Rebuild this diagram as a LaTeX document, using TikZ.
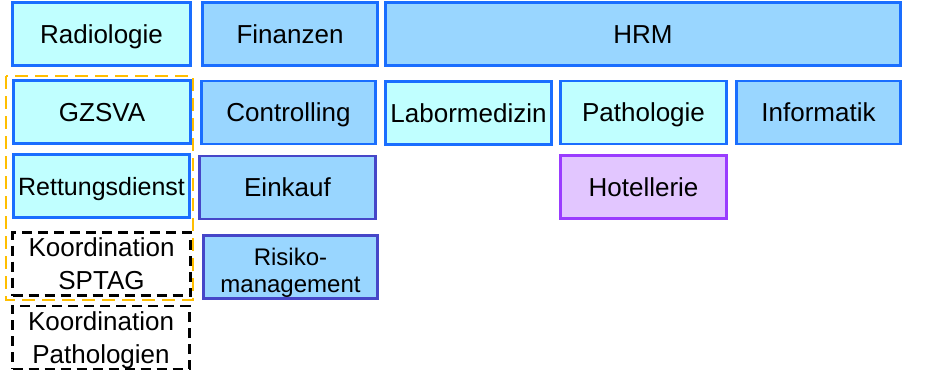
\documentclass[tikz,border=0pt]{standalone}
\usepackage{fontspec}
\setmainfont{Liberation Sans}
\usepackage{tikz}
\definecolor{cyanfill}{HTML}{C0FFFF}
\definecolor{bluefill}{HTML}{99D6FF}
\definecolor{blueline}{HTML}{1A6EFF}
\definecolor{darkline}{HTML}{4646C8}
\definecolor{lilafill}{HTML}{E2C6FF}
\definecolor{lilaline}{HTML}{9A3CFF}
\definecolor{grporange}{HTML}{FFBE00}

\begin{document}
\begin{tikzpicture}[x=1pt,y=-1pt,
    unit/.style={draw=blueline,line width=2.2pt,inner sep=0pt,align=center,
      minimum height=63pt,font=\fontsize{26}{33}\selectfont},
    one/.style={text height=18.6pt,text depth=0pt},
    light/.style={unit,one,fill=cyanfill},
    mid/.style={unit,one,fill=bluefill},
    darkmid/.style={unit,fill=bluefill,draw=darkline},
    lila/.style={unit,one,fill=lilafill,draw=lilaline},
    koord/.style={unit,draw=black,line width=2.5pt,dash pattern=on 10pt off 6pt},
    grp/.style={draw=grporange,line width=2.4pt,dash pattern=on 13pt off 7pt},
  ]
    \useasboundingbox (0,0) rectangle (935,372);
    \node[light,minimum width=178pt] (radio) at (101.5,34) {Radiologie};
    \node[mid,minimum width=175pt] (fin) at (290,34) {Finanzen};
    \node[mid,minimum width=515pt] (hrm) at (643,34) {HRM};
    \node[light,minimum width=177pt] (gzsva) at (102,112) {GZSVA};
    \node[mid,minimum width=174pt] (contr) at (288.5,112.5) {Controlling};
    \node[light,minimum width=166pt] (labor) at (468.5,113) {Labormedizin};
    \node[light,minimum width=166pt] (patho) at (643.5,112.5) {Pathologie};
    \node[mid,minimum width=164pt] (info) at (818.5,112.5) {Informatik};
    \node[light,minimum width=176pt,font=\fontsize{25}{30}\selectfont] (rettung) at (101.5,186) {Rettungsdienst};
    \node[darkmid,one,minimum width=176pt] (einkauf) at (287.5,187.5) {Einkauf};
    \node[lila,minimum width=166pt] (hotel) at (643.5,187) {Hotellerie};
    \node[koord,minimum width=178pt] (sptag) at (101.5,264) {Koordination\\SPTAG};
    \node[darkmid,minimum width=174pt,font=\fontsize{24}{27}\selectfont] (risiko) at (290.5,267)
      {\rule{0pt}{28pt}Risiko-\\management};
    \node[koord,minimum width=177pt] (kpatho) at (101,337.5) {\rule{0pt}{25pt}Koordination\\Pathologien};
    \draw[grp] (6,76) rectangle (193,300);
  \end{tikzpicture}
\end{document}
